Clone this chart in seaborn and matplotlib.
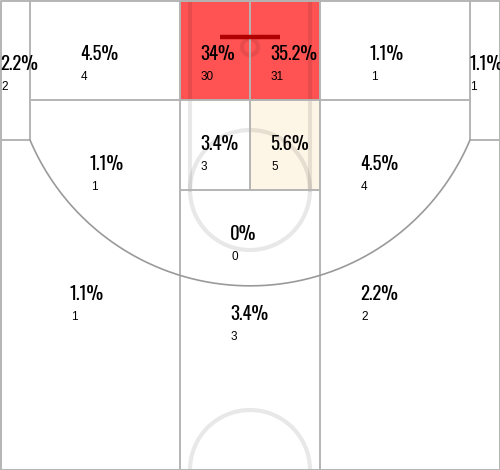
import numpy as np
import matplotlib
matplotlib.use("Agg")
import matplotlib.pyplot as plt
from matplotlib.patches import Polygon, Circle
import seaborn as sns

# Shot distribution by zone
zones = ["L corner", "L baseline mid", "RA left", "RA right", "R baseline mid",
         "R corner", "Paint left", "Paint right", "L wing mid", "R wing mid",
         "Top key mid", "L wing 3", "Top 3", "R wing 3"]
pct = [2.2, 4.5, 34, 35.2, 1.1, 1.1, 3.4, 5.6, 1.1, 4.5, 0, 1.1, 3.4, 2.2]
counts = [2, 4, 30, 31, 1, 1, 3, 5, 1, 4, 0, 1, 3, 2]
heat = ["cold", "cold", "hot", "hot", "cold", "cold", "cold", "warm",
        "cold", "cold", "cold", "cold", "cold", "cold"]

sns.set_theme(style="white")
heat_colors = sns.color_palette(["#ffffff", "#fdf5e6", "#ff4d4d"])
palette = dict(zip(["cold", "warm", "hot"], heat_colors))

PCT_FONT = ["Oswald", "Roboto Condensed", "Liberation Sans Narrow", "DejaVu Sans"]
CNT_FONT = ["Liberation Sans", "Arimo", "DejaVu Sans"]

W, H = 500, 470
fig = plt.figure(figsize=(5.0, 4.7), dpi=100)
ax = fig.add_axes([0, 0, 1, 1])
ax.set_xlim(0, W)
ax.set_ylim(H, 0)
ax.set_axis_off()

# three-point arc geometry (pixel units, y grows downward)
cx, cy = 250.0, 47.0
R = np.hypot(220.0, 93.0)


def arc_pts(x0, x1, n=80):
    xs = np.linspace(x0, x1, n)
    ys = cy + np.sqrt(R ** 2 - (xs - cx) ** 2)
    return list(zip(xs, ys))


shapes = [
    [(0, 0), (30, 0), (30, 140), (0, 140)],
    [(30, 0), (180, 0), (180, 100), (30, 100)],
    [(180, 0), (250, 0), (250, 100), (180, 100)],
    [(250, 0), (320, 0), (320, 100), (250, 100)],
    [(320, 0), (470, 0), (470, 100), (320, 100)],
    [(470, 0), (500, 0), (500, 140), (470, 140)],
    [(180, 100), (250, 100), (250, 190), (180, 190)],
    [(250, 100), (320, 100), (320, 190), (250, 190)],
    [(30, 100), (180, 100)] + arc_pts(180, 30),
    [(320, 100), (470, 100)] + arc_pts(470, 320),
    [(180, 190), (320, 190)] + arc_pts(320, 180),
    [(0, 140)] + arc_pts(30, 180) + [(180, 470), (0, 470)],
    arc_pts(180, 320) + [(320, 470), (180, 470)],
    arc_pts(320, 470) + [(500, 140), (500, 470), (320, 470)],
]

label_pos = [(0, 53), (80, 43), (200, 43), (270, 43), (370, 43), (469, 53),
             (200, 133), (270, 133), (90, 153), (360, 153), (230, 223),
             (70, 283), (230, 303), (360, 283)]

for shp, h in zip(shapes, heat):
    ax.add_patch(Polygon(shp, closed=True, facecolor=palette[h],
                         edgecolor="none", alpha=0.97, zorder=1))

# faint court markings
faint = dict(color="black", alpha=0.09, lw=3.0, zorder=2)
ax.plot([190, 190], [0, 190], **faint)
ax.plot([310, 310], [0, 190], **faint)
ax.add_patch(Circle((250, 190), 60, fill=False, **faint))
ax.add_patch(Circle((250, 470), 60, fill=False, **faint))
ax.add_patch(Circle((250, 47), 8, fill=False, **faint))

# zone borders
zl = dict(color="#b4b4b4", lw=1.4, zorder=3, solid_capstyle="butt")
ax.plot([30, 30], [0, 140], **zl)
ax.plot([470, 470], [0, 140], **zl)
ax.plot([0, 30], [140, 140], **zl)
ax.plot([470, 500], [140, 140], **zl)
ax.plot([30, 470], [100, 100], **zl)
ax.plot([180, 180], [0, 470], **zl)
ax.plot([320, 320], [0, 470], **zl)
ax.plot([250, 250], [0, 190], **zl)
ax.plot([180, 320], [190, 190], **zl)
ax.plot([0.5, 0.5, 499.5, 499.5, 0.5], [469.5, 0.5, 0.5, 469.5, 469.5], **zl)
ap = np.array(arc_pts(30, 470, 300))
ax.plot(ap[:, 0], ap[:, 1], color="#9a9a9a", lw=1.2, zorder=3)

# backboard
ax.plot([220, 280], [36.5, 36.5], color="#b00000", lw=3.2, zorder=4,
        solid_capstyle="butt")

for (x, y), p, c in zip(label_pos, pct, counts):
    ax.text(x, y + 17, f"{p:g}%", fontsize=13.5, family=PCT_FONT,
            fontweight="light", color="black", ha="left", va="baseline",
            zorder=5)
    ax.text(x + 1, y + 37, f"{c}", fontsize=8.5, family=CNT_FONT,
            color="black", ha="left", va="baseline", zorder=5)

fig.savefig("out.png", dpi=100)
